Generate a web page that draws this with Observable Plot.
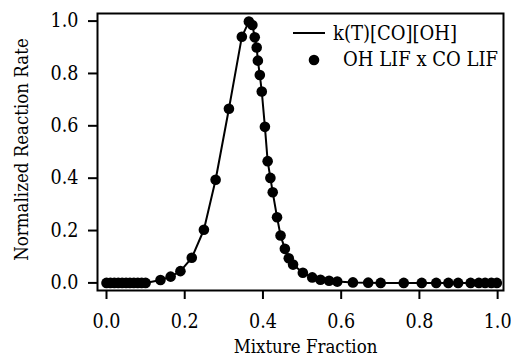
<!DOCTYPE html>
<html>
<head>
<meta charset="utf-8">
<script src="https://cdn.jsdelivr.net/npm/d3@7"></script>
<script src="https://cdn.jsdelivr.net/npm/@observablehq/plot@0.6"></script>
<style>
  html, body { margin: 0; padding: 0; background: #fff; }
  #chart { width: 511px; height: 358px; }
</style>
</head>
<body>
<div id="chart"></div>
<script>
// Mixture fraction (x) and normalized reaction rate (y)
const mixtureFraction = [
  0.00, 0.01, 0.02, 0.03, 0.04, 0.05, 0.06, 0.07, 0.08, 0.09, 0.10,
  0.138, 0.164, 0.189, 0.218, 0.249, 0.279, 0.313, 0.346,
  0.364, 0.373, 0.379, 0.384, 0.387, 0.392, 0.397,
  0.405, 0.412, 0.419, 0.425,
  0.436, 0.445, 0.456, 0.466, 0.477,
  0.502, 0.526, 0.547, 0.569, 0.590,
  0.630, 0.669, 0.701, 0.760, 0.806, 0.843, 0.874, 0.899,
  0.931, 0.952, 0.968, 0.984, 0.998
];
// OH LIF x CO LIF (measured points)
const lifRate = [
  0, 0, 0, 0, 0, 0, 0, 0, 0, 0, 0,
  0.011, 0.024, 0.045, 0.096, 0.203, 0.394, 0.665, 0.940,
  0.998, 0.985, 0.938, 0.899, 0.849, 0.794, 0.731,
  0.596, 0.465, 0.401, 0.346,
  0.251, 0.181, 0.130, 0.094, 0.070,
  0.039, 0.021, 0.012, 0.008, 0.005,
  0.002, 0.001, 0, 0, 0, 0, 0, 0,
  0, 0, 0, 0, 0
];
// k(T)[CO][OH] (model curve, drawn through the same mixture fractions)
const modelRate = lifRate.slice();

const xTicks = [0, 0.2, 0.4, 0.6, 0.8, 1.0];
const yTicks = [0, 0.2, 0.4, 0.6, 0.8, 1.0];
const xTitle = "Mixture Fraction";
const yTitle = "Normalized Reaction Rate";
const legendLabels = ["k(T)[CO][OH]", "OH LIF x CO LIF"];

const points = mixtureFraction.map((x, i) => ({x, y: lifRate[i]}));
const curve = mixtureFraction.map((x, i) => ({x, y: modelRate[i]}));

const FONT = "DejaVu Serif Condensed, DejaVu Serif, serif";
const FS = 18.5;   // axis titles
const TFS = 19.5;  // tick labels
const LFS = 20;    // legend

const plot = Plot.plot({
  width: 511,
  height: 358,
  marginLeft: 97,
  marginRight: 8,
  marginTop: 13,
  marginBottom: 68,
  style: {fontFamily: FONT, fontStretch: "condensed", fontSize: FS + "px", color: "black", background: "white", overflow: "visible"},
  x: {domain: [-0.023, 1.015]},
  y: {domain: [-0.029, 1.029]},
  marks: [
    Plot.axisX({ticks: xTicks, tickFormat: d3.format(".1f"), tickSize: 9, tickPadding: 15, strokeWidth: 2, label: null, fontSize: TFS}),
    Plot.axisY({ticks: yTicks, tickFormat: d3.format(".1f"), tickSize: 9, tickPadding: 10, strokeWidth: 2, label: null, fontSize: TFS}),
    Plot.line(curve, {x: "x", y: "y", stroke: "black", strokeWidth: 2}),
    Plot.dot(points, {x: "x", y: "y", r: 5.3, fill: "black", stroke: "none"}),
    Plot.frame({stroke: "black", strokeWidth: 2})
  ]
});

document.getElementById("chart").appendChild(plot);

const svg = d3.select(plot);
const xs = plot.scale("x"), ys = plot.scale("y");
// axis titles
svg.append("text")
  .attr("x", (xs.apply(0) + xs.apply(1)) / 2 + 4)
  .attr("y", 353)
  .attr("text-anchor", "middle")
  .attr("font-size", FS).attr("fill", "black")
  .text(xTitle);
svg.append("text")
  .attr("transform", `translate(28,${(ys.apply(0) + ys.apply(1)) / 2 - 2}) rotate(-90)`)
  .attr("text-anchor", "middle")
  .attr("font-size", FS).attr("fill", "black")
  .text(yTitle);

// legend
const lg = svg.append("g").attr("font-size", LFS).attr("fill", "black").attr("text-anchor", "start");
lg.append("line").attr("x1", 293).attr("x2", 325).attr("y1", 33).attr("y2", 33)
  .attr("stroke", "black").attr("stroke-width", 2);
lg.append("text").attr("x", 333).attr("y", 40).text(legendLabels[0]);
lg.append("circle").attr("cx", 314).attr("cy", 60).attr("r", 5.3).attr("fill", "black");
lg.append("text").attr("x", 343).attr("y", 66).text(legendLabels[1]);
</script>
</body>
</html>
